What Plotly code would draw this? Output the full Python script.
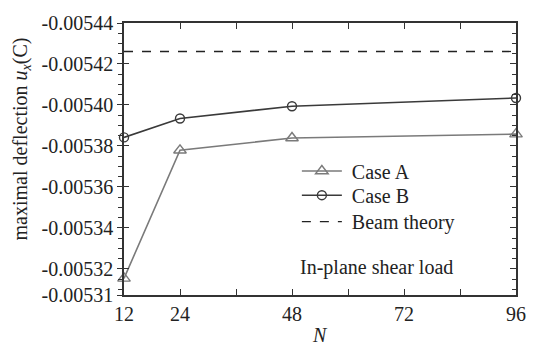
import plotly.graph_objects as go

N = [12, 24, 48, 96]
case_a = [-0.0053154, -0.0053779, -0.0053839, -0.0053858]
case_b = [-0.0053842, -0.0053934, -0.0053994, -0.0054034]
beam_x = [12, 96]
beam_y = [-0.0054261, -0.0054261]

ytick_vals = [-0.00544, -0.00542, -0.00540, -0.00538, -0.00536, -0.00534, -0.00532, -0.0053073]
ytick_text = ["-0.00544", "-0.00542", "-0.00540", "-0.00538", "-0.00536", "-0.00534", "-0.00532", "-0.00531"]
xtick_vals = [12, 24, 48, 72, 96]
xtick_text = ["12", "24", "48", "72", "96"]

FONT = "Liberation Serif"
TXT = "#222222"
yr = [-0.0053073, -0.00544]
NB = "\u00a0"

fig = go.Figure()
fig.add_trace(go.Scatter(x=N, y=case_a, name=NB + "Case A", mode="lines+markers",
                         legend="legend",
                         line=dict(color="#7a7a7a", width=1.6), cliponaxis=False,
                         marker=dict(symbol="triangle-up-open", size=11, color="#7a7a7a",
                                     line=dict(width=1.4))))
fig.add_trace(go.Scatter(x=N, y=case_b, name=NB + "Case B", mode="lines+markers",
                         legend="legend2",
                         line=dict(color="#3a3a3a", width=1.6), cliponaxis=False,
                         marker=dict(symbol="circle-open", size=9, color="#3a3a3a",
                                     line=dict(width=1.4))))
fig.add_trace(go.Scatter(x=beam_x, y=beam_y, name=NB + "Beam theory", mode="lines",
                         legend="legend3",
                         line=dict(color="#222222", width=1.3, dash="dash")))
fig.add_trace(go.Scatter(x=[12], y=[-0.00540], yaxis="y2", mode="markers",
                         marker=dict(opacity=0), showlegend=False, hoverinfo="skip"))
fig.add_trace(go.Scatter(x=[12], y=[-0.00540], yaxis="y3", mode="markers",
                         marker=dict(opacity=0), showlegend=False, hoverinfo="skip"))

leg = dict(x=0.441, xanchor="left", yanchor="middle", bgcolor="rgba(0,0,0,0)",
           font=dict(size=20, family=FONT, color=TXT), itemwidth=40)

minor_y = dict(ticklen=4, tick0=-0.00544, dtick=0.000005, tickcolor="#333",
               tickwidth=1.1, showgrid=False)

fig.update_layout(
    width=538, height=349,
    margin=dict(l=123.5, r=12, t=15, b=54),
    paper_bgcolor="white", plot_bgcolor="white",
    font=dict(family=FONT, size=20, color=TXT),
    showlegend=True,
    legend=dict(leg, y=0.456),
    legend2=dict(leg, y=0.367),
    legend3=dict(leg, y=0.270),
    xaxis=dict(range=[12, 96], tickvals=xtick_vals, ticktext=xtick_text,
               ticks="inside", ticklen=6, tickcolor="#333", tickwidth=1.3,
               showline=True, linecolor="#333", linewidth=1.5, mirror="ticks",
               showgrid=False, zeroline=False,
               minor=dict(ticks="inside", ticklen=6, tick0=12, dtick=12, tickcolor="#333",
                          tickwidth=1.3, showgrid=False),
               tickfont=dict(size=20, family=FONT, color=TXT)),
    yaxis=dict(range=yr, tickvals=ytick_vals, ticktext=ytick_text,
               ticks="outside", ticklen=5, tickcolor="#333", tickwidth=1.3,
               showline=True, linecolor="#333", linewidth=1.5,
               showgrid=False, zeroline=False,
               minor=dict(minor_y, ticks="outside"),
               tickfont=dict(size=20, family=FONT, color=TXT)),
    yaxis2=dict(range=yr, overlaying="y", side="right", anchor="x",
                tickvals=ytick_vals[:-1], showticklabels=False,
                ticks="inside", ticklen=6, tickcolor="#333", tickwidth=1.3,
                showline=True, linecolor="#333", linewidth=1.5,
                showgrid=False, zeroline=False,
                minor=dict(minor_y, ticks="inside")),
    yaxis3=dict(range=yr, overlaying="y", side="left", anchor="x",
                tickvals=ytick_vals[:-1], showticklabels=False,
                ticks="inside", ticklen=5, tickcolor="#333", tickwidth=1.3,
                showline=False, showgrid=False, zeroline=False),
    annotations=[
        dict(text="<i>N</i>", xref="paper", yref="paper", x=0.5, y=-0.148,
             xanchor="center", yanchor="middle", showarrow=False,
             font=dict(size=20, family=FONT, color=TXT)),
        dict(text="maximal deflection <i>u</i><sub><i>x</i></sub>(C)", xref="paper", yref="paper",
             x=-0.262, y=0.573, xanchor="center", yanchor="middle", textangle=-90,
             showarrow=False, font=dict(size=20, family=FONT, color=TXT)),
        dict(text="In-plane shear load", xref="paper", yref="paper", x=0.443, y=0.102,
             xanchor="left", yanchor="middle", showarrow=False,
             font=dict(size=20, family=FONT, color=TXT)),
    ],
)

fig.write_html("out.html")
